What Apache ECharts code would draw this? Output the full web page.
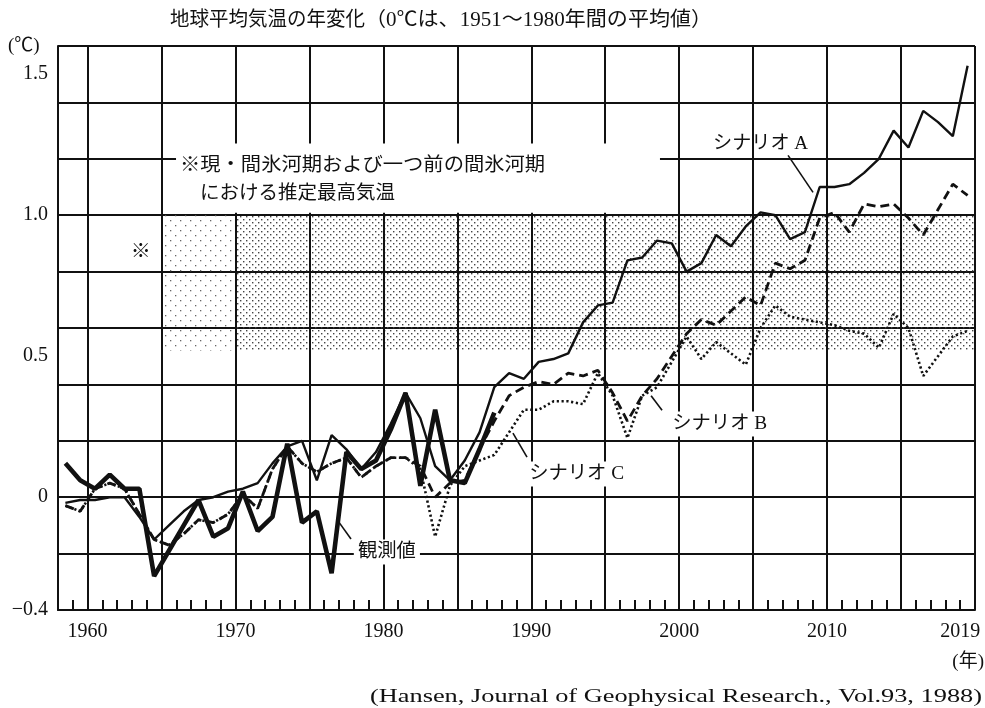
<!DOCTYPE html>
<html>
<head>
<meta charset="utf-8">
<script src="https://cdn.jsdelivr.net/npm/echarts@6/dist/echarts.min.js"></script>
<style>
  html, body { margin: 0; padding: 0; background: #fff; }
  #chart { width: 985px; height: 708px; }
</style>
</head>
<body>
<div id="chart"></div>
<script>
// ---- Data: global mean temperature anomaly (°C, relative to 1951-1980) ----
const firstYear = 1958;

// Observed annual values, 1958-1987
const observed = [
  0.12, 0.06, 0.03, 0.08, 0.03, 0.03, -0.28, -0.19, -0.10, -0.01,
  -0.14, -0.11, 0.02, -0.12, -0.07, 0.19, -0.09, -0.05, -0.27, 0.16,
  0.10, 0.13, 0.24, 0.37, 0.04, 0.31, 0.06, 0.05, 0.17, 0.30
];

// Model scenarios, 1958-2019
const scenarioA = [
  -0.02, -0.01, -0.01, 0.00, 0.00, -0.07, -0.15, -0.10, -0.05, -0.01,
  0.00, 0.02, 0.03, 0.05, 0.12, 0.18, 0.20, 0.06, 0.22, 0.17,
  0.10, 0.16, 0.26, 0.37, 0.28, 0.11, 0.06, 0.13, 0.23, 0.39,
  0.44, 0.42, 0.48, 0.49, 0.51, 0.62, 0.68, 0.69, 0.84, 0.85,
  0.91, 0.90, 0.80, 0.83, 0.93, 0.89, 0.96, 1.01, 1.00, 0.915,
  0.94, 1.10, 1.10, 1.11, 1.15, 1.20, 1.30, 1.24, 1.37, 1.33,
  1.28, 1.53
];
const scenarioB = [
  -0.03, -0.05, 0.03, 0.05, 0.03, -0.06, -0.15, -0.17, -0.13, -0.08,
  -0.09, -0.06, 0.01, -0.04, 0.10, 0.18, 0.12, 0.09, 0.12, 0.14,
  0.07, 0.11, 0.14, 0.14, 0.11, 0.00, 0.05, 0.06, 0.17, 0.27,
  0.36, 0.39, 0.41, 0.40, 0.44, 0.43, 0.45, 0.37, 0.27, 0.36,
  0.42, 0.50, 0.58, 0.63, 0.61, 0.66, 0.71, 0.68, 0.83, 0.81,
  0.84, 0.99, 1.01, 0.94, 1.04, 1.03, 1.04, 0.99, 0.93, 1.02,
  1.11, 1.07
];
const scenarioC = [
  -0.03, -0.05, 0.03, 0.05, 0.03, -0.06, -0.15, -0.17, -0.13, -0.08,
  -0.09, -0.06, 0.01, -0.04, 0.10, 0.18, 0.12, 0.09, 0.12, 0.14,
  0.07, 0.11, 0.14, 0.14, 0.10, -0.14, 0.04, 0.11, 0.13, 0.15,
  0.23, 0.31, 0.31, 0.34, 0.34, 0.33, 0.44, 0.36, 0.21, 0.36,
  0.39, 0.48, 0.57, 0.49, 0.55, 0.51, 0.47, 0.60, 0.68, 0.64,
  0.63, 0.62, 0.61, 0.59, 0.58, 0.53, 0.65, 0.60, 0.43, 0.50,
  0.57, 0.59
];

// Axis ticks and labels
const xLabelYears = [1960, 1970, 1980, 1990, 2000, 2010, 2019];
const gridYears = [1960, 1965, 1970, 1975, 1980, 1985, 1990, 1995, 2000, 2005, 2010, 2015, 2020];
const yLabelValues = [-0.4, 0, 0.5, 1.0, 1.5];

// Estimated maximum temperature of the present and previous interglacial
const bandLow = 0.52, bandHigh = 1.0;
const bandFaintStart = 1965, bandStart = 1970, bandEnd = 2020;

// Texts
const titleMain = '地球平均気温の年変化';
const titleNote = '（0℃は、1951～1980年間の平均値）';
const noteLine1 = '※現・間氷河期および一つ前の間氷河期';
const noteLine2 = 'における推定最高気温';
const sourceText = '(Hansen, Journal of Geophysical Research., Vol.93, 1988)';

// ---- Helpers ----
const FONT = '"Liberation Serif", "Noto Sans CJK JP", serif';
const INK = '#111';

// points are plotted at mid-year
const toPoints = vals => vals.map((v, i) => [firstYear + i + 0.5, v]);

const measureCtx = document.createElement('canvas').getContext('2d');
function textWidth(text, size, weight) {
  measureCtx.font = (weight || 'normal') + ' ' + size + 'px ' + FONT;
  return measureCtx.measureText(text).width;
}

function dotPattern(step, size, color) {
  const c = document.createElement('canvas');
  c.width = step * 2; c.height = step * 2;
  const g = c.getContext('2d');
  g.fillStyle = color;
  g.fillRect(0, 0, size, size);
  g.fillRect(step, step, size, size);
  return c;
}
const densePattern = { image: dotPattern(3, 1.4, '#444'), repeat: 'repeat' };
const faintPattern = { image: dotPattern(5, 1.3, '#666'), repeat: 'repeat' };

const yearTicks = [];
for (let y = firstYear + 1; y < 2020; y++) yearTicks.push(y);

const chart = echarts.init(document.getElementById('chart'), null, { renderer: 'canvas' });

chart.setOption({
  animation: false,
  backgroundColor: '#fff',
  grid: { left: 58, right: 10, top: 46, bottom: 98, containLabel: false },
  xAxis: {
    type: 'value',
    min: 1958,
    max: 2020,
    z: 1,
    axisLine: { show: true, onZero: false, lineStyle: { color: INK, width: 2 } },
    axisTick: {
      show: true, inside: true, length: 10,
      customValues: yearTicks,
      lineStyle: { color: INK, width: 2 }
    },
    axisLabel: {
      customValues: xLabelYears,
      formatter: v => String(Math.round(v)),
      fontFamily: FONT, fontSize: 20, color: INK, margin: 12
    },
    splitLine: { show: false }
  },
  yAxis: {
    type: 'value',
    min: -0.4,
    max: 1.6,
    interval: 0.2,
    z: 1,
    axisLine: { show: true, onZero: false, lineStyle: { color: INK, width: 2 } },
    axisTick: { show: false },
    axisLabel: {
      customValues: yLabelValues,
      formatter: v => {
        const r = Math.round(v * 10) / 10;
        if (r === 0) return '0';
        if (r < 0) return '\u2212' + Math.abs(r).toFixed(1);
        return r.toFixed(1);
      },
      fontFamily: FONT, fontSize: 20, color: INK, margin: 10
    },
    splitLine: { show: true, lineStyle: { color: INK, width: 2 } }
  },
  series: [
    {
      name: 'band', type: 'line', data: [], z: 0, silent: true,
      markArea: {
        silent: true,
        data: [
          [{ xAxis: bandFaintStart, yAxis: bandLow, itemStyle: { color: faintPattern } },
           { xAxis: bandStart, yAxis: bandHigh }],
          [{ xAxis: bandStart, yAxis: bandLow, itemStyle: { color: densePattern } },
           { xAxis: bandEnd, yAxis: bandHigh }]
        ]
      }
    },
    {
      name: 'grid', type: 'line', data: [], z: 1, silent: true,
      markLine: {
        silent: true, symbol: 'none', animation: false,
        label: { show: false },
        lineStyle: { color: INK, width: 2, type: 'solid' },
        data: gridYears.map(y => ({ xAxis: y }))
      }
    },
    {
      name: 'シナリオC', type: 'line', data: toPoints(scenarioC), z: 3,
      symbol: 'none', lineStyle: { color: INK, width: 2.6, type: [2.2, 2.6] }
    },
    {
      name: 'シナリオB', type: 'line', data: toPoints(scenarioB), z: 4,
      symbol: 'none', lineStyle: { color: INK, width: 2.8, type: [9, 5] }
    },
    {
      name: 'シナリオA', type: 'line', data: toPoints(scenarioA), z: 5,
      symbol: 'none', lineStyle: { color: INK, width: 2.4 }
    },
    {
      name: '観測値', type: 'line', data: toPoints(observed), z: 6,
      symbol: 'none', lineStyle: { color: INK, width: 4.6 }
    }
  ]
});

// ---- Annotations (anchored in data coordinates) ----
const P = (x, y) => chart.convertToPixel({ gridIndex: 0 }, [x, y]);

function fittedText(text, x, y, size, width, opts) {
  const o = opts || {};
  const w = textWidth(text, size, o.fontWeight);
  return {
    type: 'text', x: x, y: y, z: 20,
    scaleX: width ? width / w : 1,
    style: Object.assign({
      text: text, fontFamily: FONT, fontSize: size, fill: INK,
      align: 'left', verticalAlign: 'middle'
    }, o)
  };
}
function leader(a, b) {
  const p = P(a[0], a[1]), q = P(b[0], b[1]);
  return {
    type: 'line', z: 20,
    shape: { x1: p[0], y1: p[1], x2: q[0], y2: q[1] },
    style: { stroke: INK, lineWidth: 1.6 }
  };
}
function labelAt(text, at, size, width, withBg) {
  const p = P(at[0], at[1]);
  const extra = withBg ? { backgroundColor: '#fff', padding: [3, 4] } : {};
  return fittedText(text, p[0], p[1], size, width, extra);
}

const boxTL = P(1965.98, 1.254), boxBR = P(1998.7, 1.009);
const note1At = P(1966.25, 1.174), note2At = P(1967.6, 1.075);
const markAt = P(1963.6, 0.865);

chart.setOption({
  graphic: [
    // heading and axis units
    fittedText(titleMain, 170, 21, 20, 195),
    fittedText(titleNote, 365, 21, 20, 347),
    fittedText('(℃)', 8, 46, 19, 0),
    fittedText('(年)', 984, 662, 19, 0, { align: 'right' }),
    fittedText(sourceText, 982, 697, 19, 612, { align: 'right' }),
    // interglacial note
    {
      type: 'rect', z: 15,
      shape: { x: boxTL[0], y: boxTL[1], width: boxBR[0] - boxTL[0], height: boxBR[1] - boxTL[1] },
      style: { fill: '#fff' }
    },
    fittedText(noteLine1, note1At[0], note1At[1], 19, 365),
    fittedText(noteLine2, note2At[0], note2At[1], 19, 195),
    fittedText('※', markAt[0], markAt[1], 20, 0, { align: 'center', fontWeight: 'bold' }),
    // series labels
    labelAt('シナリオ A', [2002.29, 1.254], 19, 95, false),
    leader([2007.36, 1.212], [2009.05, 1.081]),
    labelAt('シナリオ B', [1999.25, 0.26], 19, 95, true),
    leader([1998.1, 0.36], [1998.84, 0.308]),
    labelAt('シナリオ C', [1989.58, 0.082], 19, 95, true),
    leader([1988.76, 0.227], [1989.71, 0.142]),
    labelAt('観測値', [1978.0, -0.194], 19, 58, true),
    leader([1976.93, -0.084], [1977.81, -0.148])
  ]
});
</script>
</body>
</html>
